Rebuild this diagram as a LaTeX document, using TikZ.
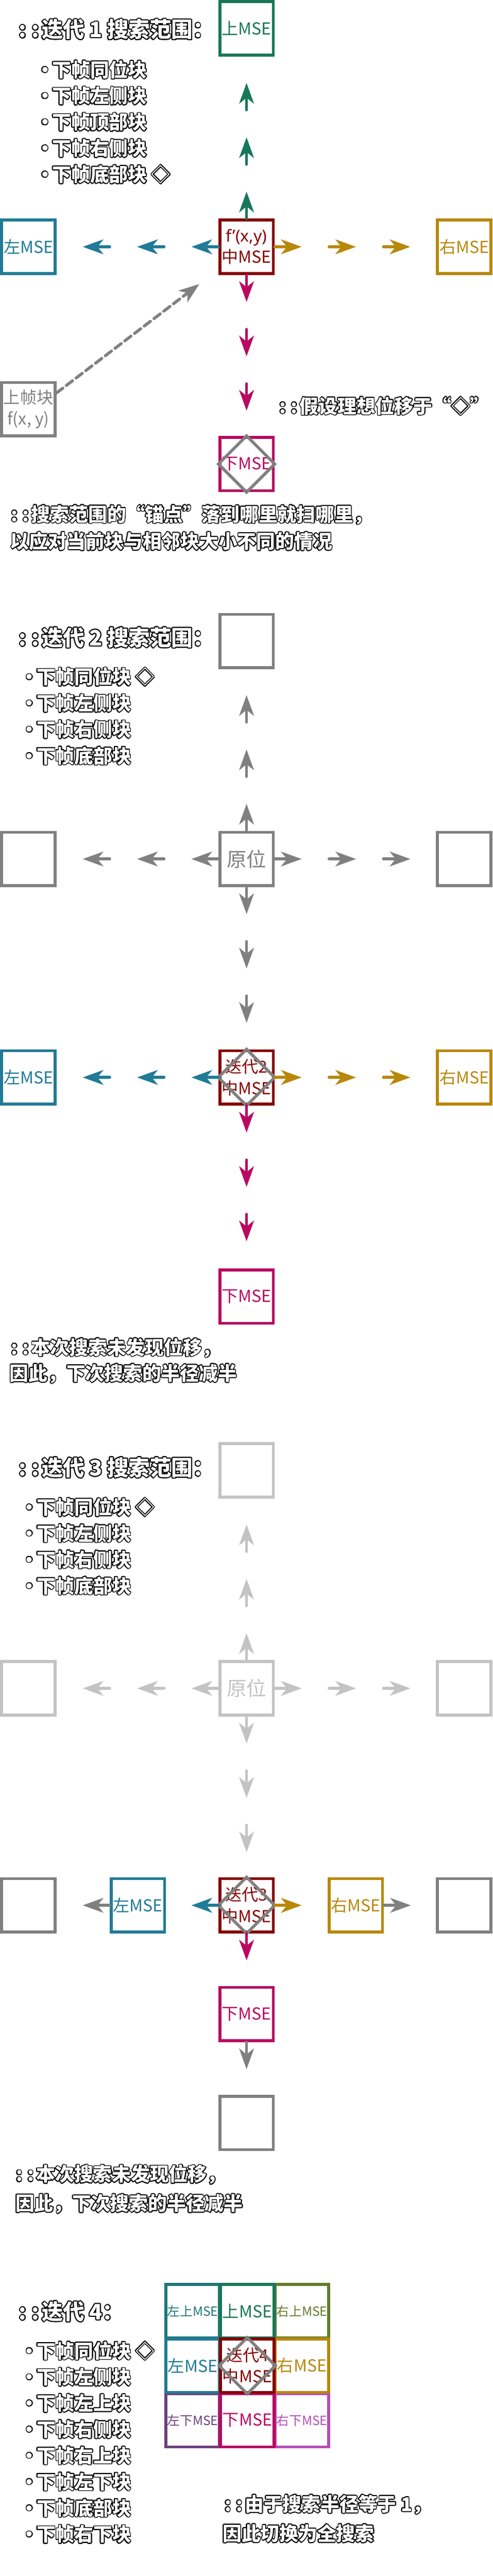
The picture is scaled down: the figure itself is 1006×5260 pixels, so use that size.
\documentclass[tikz,border=0pt]{standalone}
\usepackage{fontspec}
\setmainfont{Noto Sans CJK SC}
\newfontfamily\latf{Noto Sans}
\usepackage{contour}
\contourlength{0.045em}
\usetikzlibrary{arrows.meta,calc}
\definecolor{upc}{HTML}{187759}
\definecolor{lfc}{HTML}{217B96}
\definecolor{rtc}{HTML}{B8880B}
\definecolor{dnc}{HTML}{B80A60}
\definecolor{mdc}{HTML}{860000}
\definecolor{gry}{HTML}{808080}
\definecolor{lgr}{HTML}{C3C3C3}
\definecolor{ulc}{HTML}{1E7876}
\definecolor{urc}{HTML}{647C2B}
\definecolor{dlc}{HTML}{6C407C}
\definecolor{drc}{HTML}{B64CB8}
\newcommand{\otxt}[1]{\textcolor{white}{\contour{black}{#1}}}
\newcommand{\oitem}[1]{\otxt{\makebox[0.34cm][l]{•}#1}}
\newcommand{\dcol}{:\kern0.25em:\kern0.12em}

\begin{document}
\begin{tikzpicture}[x=0.01cm,y=-0.01cm,
  box/.style={draw=#1,text=#1,line width=0.06cm,minimum size=1.09cm,inner sep=0pt,align=center,font=\fontsize{9.6}{12.4}\selectfont},
  box/.default=gry,
  ar/.style={draw=#1,line width=0.06cm,line cap=round,-{Stealth[length=0.42cm,width=0.3cm,inset=0.12cm]}},
  dia/.style={draw=gry,line width=0.06cm},
  note/.style={anchor=west,inner sep=0pt,font=\bfseries\fontsize{11}{13}\selectfont},
  ttl/.style={note,font=\bfseries\fontsize{12.4}{14}\selectfont},
  cnr/.style={font=\fontsize{7.4}{9}\selectfont},
  orig/.style={font=\fontsize{11.5}{13}\selectfont}]
\useasboundingbox (0,0) rectangle (1006,5260);

\node[box=upc] (u1) at (503.5,58) {上MSE};
\node[box=lfc] (l1) at (58,504) {左MSE};
\node[box=rtc] (r1) at (948,504) {右MSE};
\node[box=mdc] (m1) at (503.5,504) {{\latf f’(x,y)}\\中MSE};
\node[box=dnc] (d1) at (503.5,947.5) {下MSE};
\draw[dia] (d1.north) -- (d1.east) -- (d1.south) -- (d1.west) -- cycle;
\foreach \a/\dx/\dy/\c in {north/0/-1/upc,south/0/1/dnc,west/-1/0/lfc,east/1/0/rtc}
  \foreach \k in {0,1,2}
    \draw[ar=\c] ($(m1.\a)+(111*\k*\dx,111*\k*\dy)$) -- ++(55*\dx,55*\dy);
\node[box] (p1) at (58,835.5) {上帧块\\f(x, y)};
\coordinate (p1t) at (407,580);
\draw[ar=gry,dash pattern=on 0.16cm off 0.09cm] (p1.30) -- (p1t);
\node[ttl] (h1) at (38,61) {\otxt{\dcol 迭代 1 搜索范围：}};
\foreach \t [count=\i] in {下帧同位块,下帧左侧块,下帧顶部块,下帧右侧块,下帧底部块 ◇}
  \node[note] (b1\i) at (72,89.5+53.5*\i) {\oitem{\t}};
\node[note] (q1) at (570,830) {\otxt{\dcol 假设理想位移于“◇”}};
\node[note] (n1a) at (22,1052) {\otxt{\dcol 搜索范围的“锚点”落到哪里就扫哪里，}};
\node[note] (n1b) at (20,1106) {\otxt{以应对当前块与相邻块大小不同的情况}};

\node[box] (u2) at (503.5,1309) {};
\node[box] (o2l) at (58,1754) {};
\node[box,orig] (o2) at (503.5,1754) {原位};
\node[box] (o2r) at (948,1754) {};
\foreach \a/\dx/\dy in {north/0/-1,south/0/1,west/-1/0,east/1/0}
  \foreach \k in {0,1,2}
    \draw[ar=gry] ($(o2.\a)+(111*\k*\dx,111*\k*\dy)$) -- ++(55*\dx,55*\dy);
\node[box=lfc] (l2) at (58,2200) {左MSE};
\node[box=mdc] (m2) at (503.5,2200) {迭代2\\中MSE};
\node[box=rtc] (r2) at (948,2200) {右MSE};
\node[box=dnc] (d2) at (503.5,2647.5) {下MSE};
\draw[dia] (m2.north) -- (m2.east) -- (m2.south) -- (m2.west) -- cycle;
\foreach \a/\dx/\dy/\c in {south/0/1/dnc,west/-1/0/lfc,east/1/0/rtc}
  \foreach \k in {0,1,2}
    \draw[ar=\c] ($(m2.\a)+(111*\k*\dx,111*\k*\dy)$) -- ++(55*\dx,55*\dy);
\node[ttl] (h2) at (38,1303) {\otxt{\dcol 迭代 2 搜索范围：}};
\foreach \t [count=\i] in {下帧同位块 ◇,下帧左侧块,下帧右侧块,下帧底部块}
  \node[note] (b2\i) at (40,1329.3+53.7*\i) {\oitem{\t}};
\node[note] (n2a) at (22,2753) {\otxt{\dcol 本次搜索未发现位移，}};
\node[note] (n2b) at (19,2806) {\otxt{因此，下次搜索的半径减半}};

\node[box=lgr] (u3) at (503.5,3002.5) {};
\node[box=lgr] (o3l) at (58,3447.5) {};
\node[box=lgr,orig] (o3) at (503.5,3447.5) {原位};
\node[box=lgr] (o3r) at (948,3447.5) {};
\foreach \a/\dx/\dy in {north/0/-1,south/0/1,west/-1/0,east/1/0}
  \foreach \k in {0,1,2}
    \draw[ar=lgr] ($(o3.\a)+(111*\k*\dx,111*\k*\dy)$) -- ++(55*\dx,55*\dy);
\node[box] (f3l) at (58,3890.5) {};
\node[box=lfc] (l3) at (281.5,3890.5) {左MSE};
\node[box=mdc] (m3) at (503.5,3890.5) {迭代3\\中MSE};
\node[box=rtc] (r3) at (726.5,3890.5) {右MSE};
\node[box] (f3r) at (948,3890.5) {};
\node[box=dnc] (d3) at (503.5,4112.5) {下MSE};
\node[box] (f3d) at (503.5,4335) {};
\draw[dia] (m3.north) -- (m3.east) -- (m3.south) -- (m3.west) -- cycle;
\draw[ar=lfc] (m3.west) -- ++(-55,0);
\draw[ar=rtc] (m3.east) -- ++(55,0);
\draw[ar=dnc] (m3.south) -- ++(0,55);
\draw[ar=gry] (l3.west) -- ++(-55,0);
\draw[ar=gry] (r3.east) -- ++(55,0);
\draw[ar=gry] (d3.south) -- ++(0,55);
\node[ttl] (h3) at (38,2998) {\otxt{\dcol 迭代 3 搜索范围：}};
\foreach \t [count=\i] in {下帧同位块 ◇,下帧左侧块,下帧右侧块,下帧底部块}
  \node[note] (b3\i) at (40,3025+53.5*\i) {\oitem{\t}};
\node[note] (n3a) at (32,4441) {\otxt{\dcol 本次搜索未发现位移，}};
\node[note] (n3b) at (31,4501) {\otxt{因此，下次搜索的半径减半}};

\node[box=ulc,cnr] (g11) at (393.5,4719) {左上MSE};
\node[box=urc,cnr] (g13) at (616.5,4719) {右上MSE};
\node[box=dlc,cnr] (g31) at (393.5,4942) {左下MSE};
\node[box=drc,cnr] (g33) at (616.5,4942) {右下MSE};
\node[box=upc] (g12) at (505,4719) {上MSE};
\node[box=dnc] (g32) at (505,4942) {下MSE};
\node[box=lfc] (g21) at (393.5,4830.5) {左MSE};
\node[box=rtc] (g23) at (616.5,4830.5) {右MSE};
\node[box=mdc] (g22) at (505,4830.5) {迭代4\\中MSE};
\draw[dia] (g22.north) -- (g22.east) -- (g22.south) -- (g22.west) -- cycle;
\node[ttl] (h4) at (38,4721) {\otxt{\dcol 迭代 4：}};
\foreach \t [count=\i] in {下帧同位块 ◇,下帧左侧块,下帧左上块,下帧右侧块,下帧右上块,下帧左下块,下帧底部块,下帧右下块}
  \node[note] (b4\i) at (40,4747.5+53.5*\i) {\oitem{\t}};
\node[note] (n4a) at (458,5115) {\otxt{\dcol 由于搜索半径等于 1，}};
\node[note] (n4b) at (454,5174) {\otxt{因此切换为全搜索}};
\end{tikzpicture}
\end{document}
